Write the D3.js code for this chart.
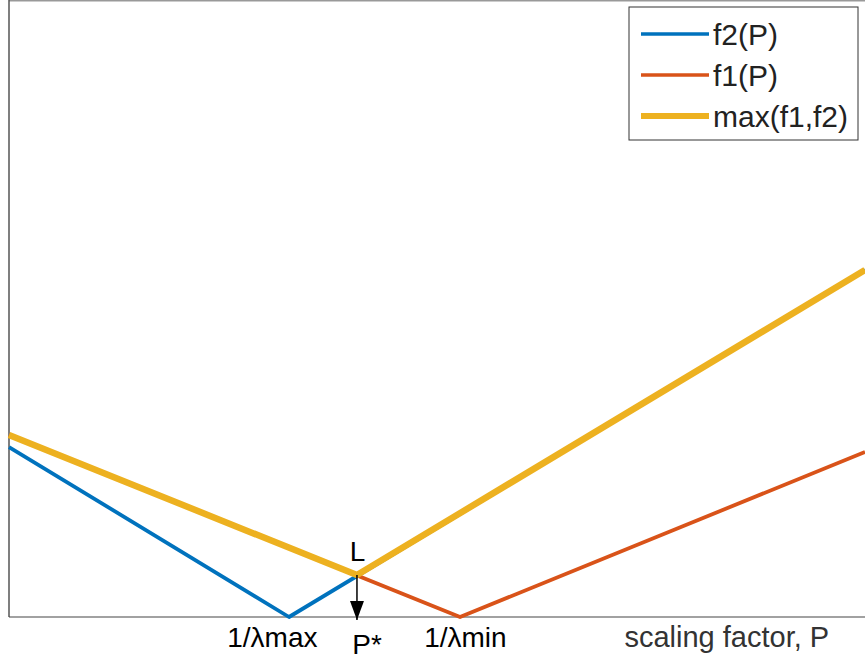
<!DOCTYPE html>
<html>
<head>
<meta charset="utf-8">
<script src="https://cdn.jsdelivr.net/npm/d3@7/dist/d3.min.js"></script>
<style>
  html, body { margin: 0; padding: 0; background: #fff; }
  svg text { font-family: "Liberation Sans", Arial, sans-serif; }
</style>
</head>
<body>
<div id="chart"></div>
<script>
// Data (arbitrary units for P and f)
var f2P = [0, 3.271, 10];
var f2V = [0.2755, 0, 0.5624];

var f1P = [0, 5.269, 10];
var f1V = [0.295, 0, 0.2674];

var maxP = [0, 4.065, 10];
var maxV = [0.295, 0.068, 0.5624];

// Annotation texts and where they sit (data coords, left-aligned baseline)
var noteText = ["1/λmax", "P*", "1/λmin", "scaling factor, P", "L"];
var noteX = [2.55, 4.01, 4.85, 7.19, 3.98];
var noteY = [-0.049, -0.060, -0.049, -0.049, 0.091];

var legendNames = ["f2(P)", "f1(P)", "max(f1,f2)"];
var colors = ["#0072BD", "#D95319", "#EDB120"];
var widths = [3.8, 3.8, 6.5];

var width = 865;
var height = 659;
var margin = { top: 0, right: 0, bottom: 42, left: 9 };

var svg = d3.select("#chart")
            .append("svg")
            .attr("width", width)
            .attr("height", height);

var xScale = d3.scaleLinear()
               .domain([0, 10])
               .range([margin.left, width - margin.right]);

var yScale = d3.scaleLinear()
               .domain([0, 1])
               .range([height - margin.bottom, margin.top]);

// Arrowhead marker
svg.append("defs").append("marker")
   .attr("id", "arrow")
   .attr("viewBox", "0 0 10 10")
   .attr("preserveAspectRatio", "none")
   .attr("refX", 10)
   .attr("refY", 5)
   .attr("markerWidth", 19)
   .attr("markerHeight", 14)
   .attr("markerUnits", "userSpaceOnUse")
   .attr("orient", "auto")
   .append("path")
   .attr("d", "M0,0 L10,5 L0,10 Z")
   .attr("fill", "#000");

// Axes box: top and left, bottom
svg.append("line")
   .attr("x1", margin.left).attr("x2", width)
   .attr("y1", 0.75).attr("y2", 0.75)
   .attr("stroke", "#999").attr("stroke-width", 1.5);

svg.append("line")
   .attr("x1", margin.left).attr("x2", margin.left)
   .attr("y1", 0).attr("y2", yScale(0))
   .attr("stroke", "#555").attr("stroke-width", 1.5);

svg.append("line")
   .attr("x1", margin.left).attr("x2", width)
   .attr("y1", yScale(0)).attr("y2", yScale(0))
   .attr("stroke", "#444").attr("stroke-width", 1.2);

var line = d3.line()
             .x(function(d) { return xScale(d[0]); })
             .y(function(d) { return yScale(d[1]); });

var series = [
  d3.zip(f2P, f2V),
  d3.zip(f1P, f1V),
  d3.zip(maxP, maxV)
];

svg.selectAll("path.series")
   .data(series)
   .enter()
   .append("path")
   .attr("class", "series")
   .attr("d", line)
   .attr("fill", "none")
   .attr("stroke", function(d, i) { return colors[i]; })
   .attr("stroke-width", function(d, i) { return widths[i]; })
   .attr("stroke-linejoin", "round");

// Arrow from L down to P*
svg.append("line")
   .attr("x1", xScale(maxP[1])).attr("x2", xScale(maxP[1]))
   .attr("y1", yScale(maxV[1])).attr("y2", yScale(0) + 3)
   .attr("stroke", "#000").attr("stroke-width", 1.5)
   .attr("marker-end", "url(#arrow)");

// Annotations
svg.selectAll("text.note")
   .data(noteText)
   .enter()
   .append("text")
   .attr("class", "note")
   .attr("x", function(d, i) { return xScale(noteX[i]); })
   .attr("y", function(d, i) { return yScale(noteY[i]); })
   .attr("font-size", function(d, i) { return i === 3 ? "29px" : "28px"; })
   .attr("fill", function(d, i) { return i === 3 ? "#333" : "#000"; })
   .text(function(d) { return d; });

// Legend
var legend = svg.append("g").attr("transform", "translate(629,7)");

legend.append("rect")
      .attr("width", 229).attr("height", 133)
      .attr("fill", "#fff")
      .attr("stroke", "#333").attr("stroke-width", 1);

var rows = legend.selectAll("g.row")
                 .data(legendNames)
                 .enter()
                 .append("g")
                 .attr("transform", function(d, i) { return "translate(0," + (27 + i * 41) + ")"; });

rows.append("line")
    .attr("x1", 12).attr("x2", 80)
    .attr("stroke", function(d, i) { return colors[i]; })
    .attr("stroke-width", function(d, i) { return widths[i] - 0.5; });

rows.append("text")
    .attr("x", 84)
    .attr("y", 11)
    .attr("font-size", "30px")
    .attr("fill", "#222")
    .text(function(d) { return d; });
</script>
</body>
</html>
